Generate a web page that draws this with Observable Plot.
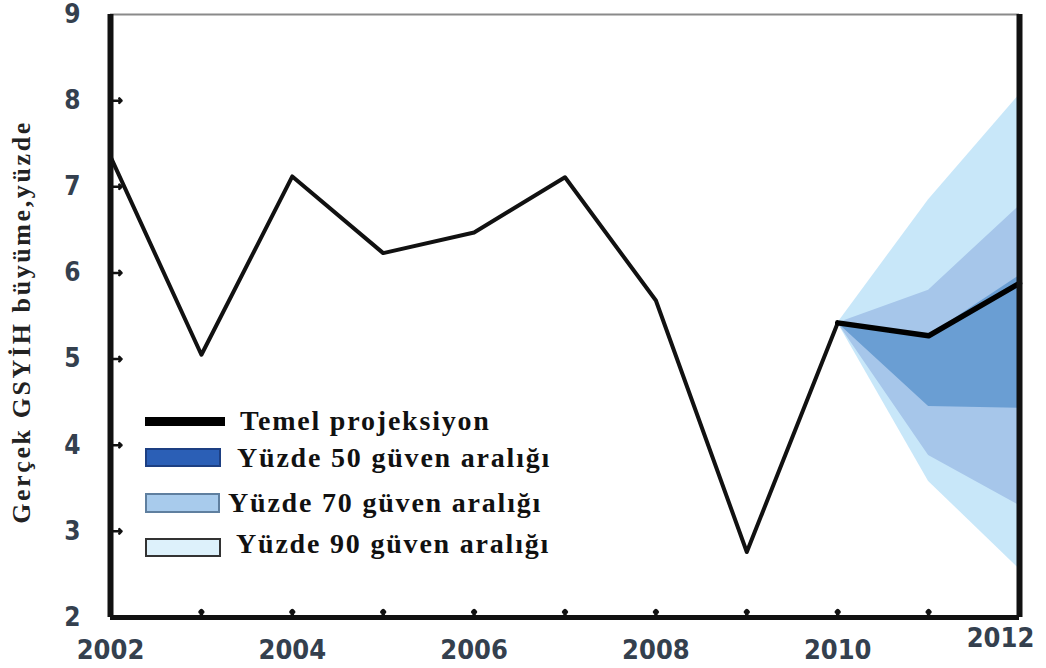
<!DOCTYPE html>
<html>
<head>
<meta charset="utf-8">
<script src="https://cdn.jsdelivr.net/npm/d3@7"></script>
<script src="https://cdn.jsdelivr.net/npm/@observablehq/plot@0.6"></script>
<style>
  html, body { margin: 0; padding: 0; background: #fff; }
  #wrap { position: relative; width: 1046px; height: 668px; }
  #legend { position: absolute; left: 0; top: 0; font-family: "Liberation Serif", "DejaVu Serif", serif; font-weight: bold; font-size: 28px; letter-spacing: 1.8px; color: #111; line-height: 32px; }
  .item { position: absolute; white-space: nowrap; }
  .sw { position: absolute; box-sizing: border-box; }
</style>
</head>
<body>
<div id="wrap">
  <div id="chart"></div>
  <div id="legend"></div>
</div>
<script>
// Historical real GDP growth (percent)
const years = [2002, 2003, 2004, 2005, 2006, 2007, 2008, 2009, 2010];
const growth = [7.35, 5.05, 7.12, 6.23, 6.47, 7.11, 5.68, 2.76, 5.42];

// Baseline projection
const projYears = [2010, 2011, 2012];
const projGrowth = [5.42, 5.27, 5.88];

// Confidence bands (low / high) for projection years
const band90Low  = [5.42, 3.58, 2.56];
const band90High = [5.42, 6.85, 8.07];
const band70Low  = [5.42, 3.88, 3.30];
const band70High = [5.42, 5.80, 6.78];
const band50Low  = [5.42, 4.45, 4.43];
const band50High = [5.42, 5.27, 5.97];

const yTicks = [2, 3, 4, 5, 6, 7, 8, 9];
const xTickLabels = [2002, 2004, 2006, 2008, 2010, 2012];
const minorXTicks = [2003, 2004, 2005, 2006, 2007, 2008, 2009, 2010, 2011];
const innerYTicks = [3, 4, 5, 6, 7, 8];

const legendLabels = ["Temel projeksiyon", "Yüzde 50 güven aralığı", "Yüzde 70 güven aralığı", "Yüzde 90 güven aralığı"];
const yTitle = "Gerçek GSYİH büyüme,yüzde";

const c90 = "#c8e7f9", c70 = "#a6c6ea", c50 = "#6a9ed3";

const hist = years.map((x, i) => ({x, y: growth[i]}));
const proj = projYears.map((x, i) => ({x, y: projGrowth[i]}));
const band = (lo, hi) => projYears.map((x, i) => ({x, lo: lo[i], hi: hi[i]}));

const tickFont = "'DejaVu Sans Condensed', 'DejaVu Sans', sans-serif";

const plot = Plot.plot({
  width: 1046,
  height: 668,
  marginLeft: 110,
  marginRight: 27,
  marginTop: 14,
  marginBottom: 51,
  x: {domain: [years[0], projYears[projYears.length - 1]]},
  y: {domain: [yTicks[0], yTicks[yTicks.length - 1]]},
  style: {background: "#fff", overflow: "visible"},
  marks: [
    Plot.areaY(band(band90Low, band90High), {x: "x", y1: "lo", y2: "hi", fill: c90}),
    Plot.areaY(band(band70Low, band70High), {x: "x", y1: "lo", y2: "hi", fill: c70}),
    Plot.areaY(band(band50Low, band50High), {x: "x", y1: "lo", y2: "hi", fill: c50}),
    Plot.line(hist, {x: "x", y: "y", stroke: "#111", strokeWidth: 4, strokeLinejoin: "round"}),
    Plot.line(proj, {x: "x", y: "y", stroke: "#000", strokeWidth: 5.5, strokeLinejoin: "round"}),
    // inward ticks
    Plot.vector(innerYTicks, {x: () => years[0], y: d => d, length: 11, rotate: 90, anchor: "start", stroke: "#111", strokeWidth: 2.5}),
    Plot.vector(minorXTicks, {x: d => d, y: () => yTicks[0], length: 7, rotate: 0, anchor: "start", stroke: "#111", strokeWidth: 3.5}),
    // frame
    Plot.ruleY([yTicks[yTicks.length - 1]], {stroke: "#8a8a8a", strokeWidth: 2}),
    Plot.ruleX([years[0]], {stroke: "#111", strokeWidth: 6}),
    Plot.ruleX([projYears[projYears.length - 1]], {stroke: "#111", strokeWidth: 6}),
    Plot.ruleY([yTicks[0]], {stroke: "#111", strokeWidth: 5}),
    // axes labels
    Plot.axisY(yTicks, {tickSize: 0, tickPadding: 30, fontSize: 26, fontWeight: "bold", fill: "#34404e", fontFamily: tickFont, tickFormat: d => String(d), label: null}),
    Plot.axisX(xTickLabels.slice(0, -1), {tickSize: 0, tickPadding: 22, fontSize: 27, fontWeight: "bold", fill: "#34404e", fontFamily: tickFont, tickFormat: d => String(d), label: null}),
    Plot.axisX(xTickLabels.slice(-1), {tickSize: 0, tickPadding: 10, dx: -19, fontSize: 27, fontWeight: "bold", fill: "#34404e", fontFamily: tickFont, tickFormat: d => String(d), label: null})
  ]
});

// y-axis title
const svg = d3.select(plot);
svg.append("text")
  .attr("transform", "translate(30,322) rotate(-90)")
  .attr("text-anchor", "middle")
  .attr("font-family", "'Liberation Serif', 'DejaVu Serif', serif")
  .attr("font-size", 26)
  .attr("font-weight", "bold")
  .attr("letter-spacing", 2.6)
  .attr("fill", "#222")
  .text(yTitle);

document.getElementById("chart").appendChild(plot);

// legend overlay (inside the plot area)
const legend = document.getElementById("legend");
const items = [
  {sw: {left: 145, top: 417, w: 80, h: 9, bg: "#000", border: "none"}, text: {left: 240, top: 405}},
  {sw: {left: 145, top: 448, w: 76, h: 19, bg: "#2b5fb6", border: "2px solid #1d3f82"}, text: {left: 237, top: 442}},
  {sw: {left: 145, top: 493, w: 75, h: 20, bg: "#a8cbec", border: "2px solid #5f7f9f"}, text: {left: 228, top: 487}},
  {sw: {left: 145, top: 538, w: 76, h: 19, bg: "#ddf1fb", border: "2px solid #333"}, text: {left: 236, top: 528}}
];
items.forEach((it, i) => {
  const s = document.createElement("div");
  s.className = "sw";
  Object.assign(s.style, {left: it.sw.left + "px", top: it.sw.top + "px", width: it.sw.w + "px", height: it.sw.h + "px", background: it.sw.bg, border: it.sw.border});
  legend.appendChild(s);
  const t = document.createElement("div");
  t.className = "item";
  t.style.left = it.text.left + "px";
  t.style.top = it.text.top + "px";
  t.textContent = legendLabels[i];
  legend.appendChild(t);
});
</script>
</body>
</html>
